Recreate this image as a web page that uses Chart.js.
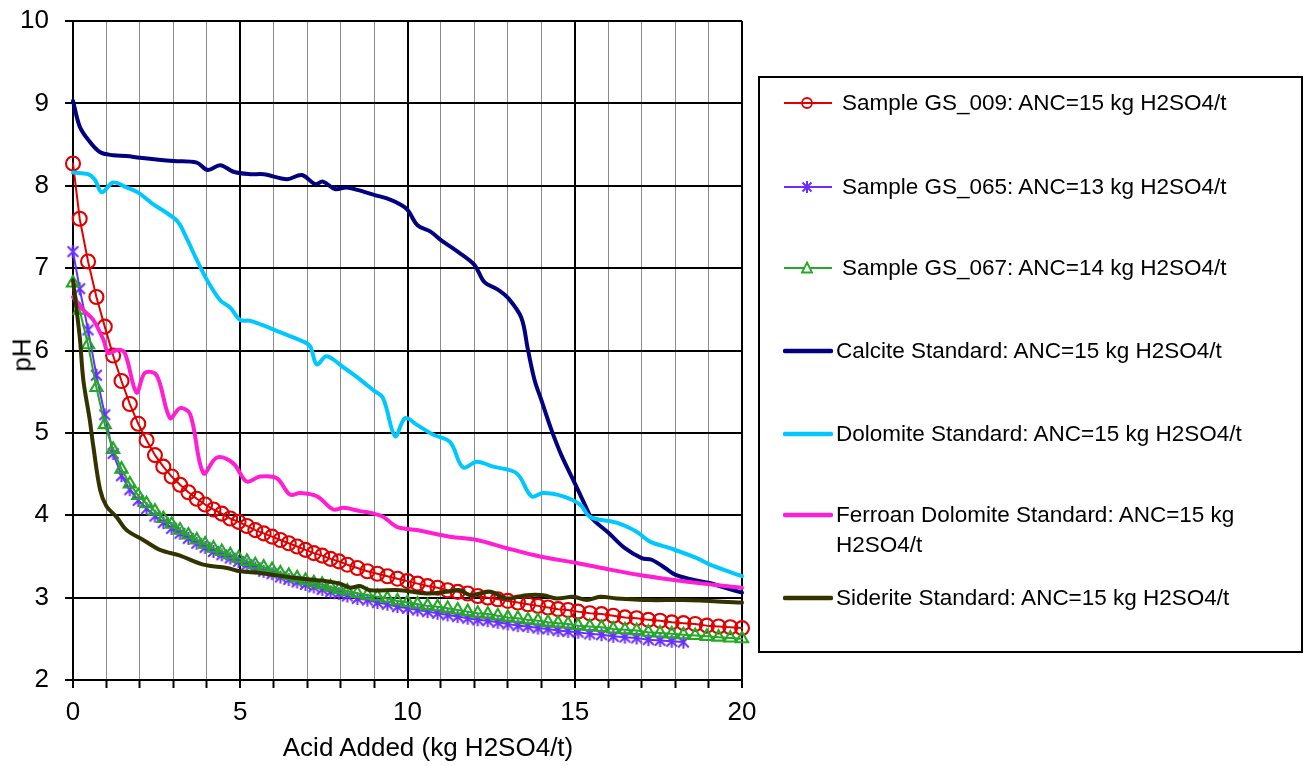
<!DOCTYPE html>
<html><head><meta charset="utf-8">
<script src="https://cdn.jsdelivr.net/npm/chart.js@4.4.1/dist/chart.umd.min.js"></script>
<style>
html,body{margin:0;padding:0;background:#fff;}
#wrap{position:relative;width:1311px;height:766px;overflow:hidden;font-family:"Liberation Sans",Arial,sans-serif;}
#c{position:absolute;left:0;top:0;}
#legend{position:absolute;left:758px;top:76px;width:541px;height:573px;border:2px solid #000;font-size:22.5px;color:#000;}
.txt{position:absolute;white-space:nowrap;line-height:30px;}
.ico{position:absolute;left:23px;}
#xtitle{position:absolute;left:428px;top:747px;transform:translate(-50%,-50%);font-size:26px;white-space:nowrap;color:#000;}
#ytitle{position:absolute;left:22px;top:355px;transform:translate(-50%,-50%) rotate(-90deg);font-size:26px;white-space:nowrap;color:#000;}
</style>
</head><body>
<div id="wrap">
<canvas id="c" width="1311" height="766"></canvas>
<div id="xtitle">Acid Added (kg H2SO4/t)</div>
<div id="ytitle">pH</div>
<div id="legend"></div>
</div>
<script>
// ---- data ----
const seriesNames = [
  "Sample GS_009: ANC=15 kg H2SO4/t",
  "Sample GS_065: ANC=13 kg H2SO4/t",
  "Sample GS_067: ANC=14 kg H2SO4/t",
  "Calcite Standard: ANC=15 kg H2SO4/t",
  "Dolomite Standard: ANC=15 kg H2SO4/t",
  "Ferroan Dolomite Standard: ANC=15 kg H2SO4/t",
  "Siderite Standard: ANC=15 kg H2SO4/t"
];
const xTickLabels = [0, 5, 10, 15, 20];
const yTickLabels = [2, 3, 4, 5, 6, 7, 8, 9, 10];

// acid added at each titration step of the samples
const sampleAcid = [0,0.2,0.45,0.7,0.95,1.2,1.45,1.7,1.95,2.2,2.45,2.7,2.95,3.2,3.45,3.7,3.95,4.2,4.45,4.7,4.95,5.2,5.45,5.7,5.95,6.2,6.45,6.7,6.95,7.2,7.45,7.7,7.95,8.2,8.5,8.8,9.1,9.4,9.7,10.0,10.3,10.6,10.9,11.2,11.5,11.8,12.1,12.4,12.7,13.0,13.3,13.6,13.9,14.2,14.5,14.8,15.1,15.45,15.8,16.15,16.5,16.85,17.2,17.55,17.9,18.25,18.6,18.95,19.3,19.65,20.0];

const gs009pH = [8.27,7.60,7.08,6.65,6.29,5.94,5.63,5.35,5.11,4.91,4.73,4.59,4.47,4.37,4.28,4.20,4.13,4.07,4.02,3.96,3.92,3.87,3.82,3.78,3.74,3.70,3.66,3.62,3.58,3.54,3.51,3.47,3.44,3.40,3.36,3.32,3.29,3.26,3.23,3.20,3.17,3.14,3.12,3.09,3.07,3.05,3.02,3.00,2.98,2.96,2.94,2.92,2.90,2.88,2.86,2.85,2.83,2.81,2.80,2.78,2.76,2.75,2.73,2.72,2.70,2.69,2.68,2.66,2.65,2.64,2.63];

const gs065pH = [7.20,6.75,6.25,5.70,5.22,4.75,4.48,4.31,4.18,4.08,3.99,3.91,3.84,3.78,3.72,3.66,3.61,3.56,3.52,3.48,3.44,3.40,3.36,3.32,3.29,3.25,3.22,3.19,3.16,3.13,3.10,3.07,3.05,3.02,2.99,2.97,2.94,2.92,2.89,2.87,2.85,2.83,2.81,2.79,2.77,2.75,2.73,2.72,2.70,2.68,2.66,2.65,2.63,2.62,2.60,2.59,2.58,2.56,2.55,2.53,2.52,2.51,2.49,2.48,2.47,2.46];

const gs067pH = [6.82,6.49,6.07,5.55,5.10,4.80,4.56,4.38,4.24,4.14,4.05,3.96,3.89,3.82,3.76,3.70,3.65,3.60,3.56,3.52,3.48,3.44,3.40,3.37,3.34,3.30,3.27,3.24,3.21,3.18,3.16,3.13,3.10,3.08,3.05,3.03,3.01,2.99,2.96,2.94,2.92,2.90,2.89,2.87,2.85,2.83,2.81,2.80,2.78,2.76,2.75,2.73,2.72,2.70,2.69,2.68,2.66,2.65,2.64,2.62,2.61,2.60,2.58,2.57,2.56,2.55,2.54,2.53,2.52,2.51,2.50];

const calciteAcid = [0,0.2,0.45,0.8,1.2,1.6,2.0,3.0,3.7,4.03,4.4,4.8,5.3,5.7,6.4,6.84,7.24,7.47,7.83,8.18,8.5,9.0,9.5,9.8,10.0,10.3,10.7,11.0,11.5,12.0,12.3,12.7,13.0,13.4,13.6,13.8,14.0,14.3,14.6,15.0,15.3,15.5,16.0,16.5,17.0,17.3,17.7,18.0,18.5,19.0,19.5,20.0];
const calcitePH = [9.03,8.72,8.56,8.41,8.37,8.36,8.34,8.30,8.28,8.19,8.25,8.17,8.14,8.14,8.08,8.13,8.02,8.05,7.96,7.98,7.95,7.89,7.83,7.77,7.71,7.52,7.44,7.34,7.20,7.04,6.83,6.74,6.64,6.40,6.01,5.64,5.40,5.04,4.73,4.39,4.13,3.97,3.79,3.60,3.48,3.46,3.36,3.28,3.22,3.18,3.12,3.06];

const dolomiteAcid = [0,0.45,0.66,0.86,1.2,1.6,1.94,2.35,2.8,3.14,3.4,3.7,4.0,4.4,4.7,5.0,5.3,5.9,6.39,6.88,7.09,7.29,7.58,8.07,8.48,8.97,9.27,9.63,9.93,10.27,10.76,11.27,11.66,12.07,12.56,13.26,13.71,14.05,14.65,15.16,15.46,16.25,16.85,17.25,17.85,18.65,19.04,20];
const dolomitePH = [8.16,8.14,8.07,7.92,8.04,7.98,7.92,7.79,7.67,7.56,7.36,7.10,6.86,6.61,6.52,6.37,6.36,6.27,6.19,6.11,6.05,5.83,5.93,5.80,5.68,5.52,5.42,4.96,5.18,5.10,4.98,4.89,4.58,4.65,4.59,4.51,4.23,4.27,4.23,4.13,3.98,3.91,3.80,3.68,3.60,3.48,3.40,3.26];

const ferroanAcid = [0,0.31,0.61,0.91,1.06,1.35,1.55,1.9,2.15,2.5,2.9,3.2,3.5,3.9,4.3,4.79,5.19,5.59,6.09,6.49,6.79,7.29,7.78,8.08,8.58,8.88,9.28,9.68,10.28,11.27,12.07,12.97,13.96,15.06,16.05,16.85,17.85,18.84,20];
const ferroanPH = [6.65,6.49,6.37,6.13,5.97,6.01,5.97,5.49,5.73,5.70,5.18,5.30,5.23,4.51,4.70,4.63,4.41,4.47,4.45,4.25,4.27,4.23,4.07,4.09,4.05,4.03,3.98,3.86,3.82,3.74,3.70,3.60,3.50,3.42,3.34,3.28,3.22,3.17,3.12];

const sideriteAcid = [0,0.2,0.31,0.5,0.61,0.81,1.0,1.3,1.6,2.1,2.6,3.2,3.9,4.6,5.0,5.6,6.6,7.58,7.98,8.28,8.58,8.88,9.78,10.57,11.17,11.57,11.87,12.47,12.97,13.56,14.06,14.46,14.96,15.36,15.76,16.25,17.25,18.24,20];
const sideritePH = [6.85,6.17,5.64,5.16,4.83,4.31,4.11,3.98,3.82,3.70,3.58,3.51,3.40,3.36,3.32,3.30,3.24,3.20,3.17,3.12,3.14,3.09,3.09,3.05,3.07,3.09,3.03,3.07,2.99,3.03,3.03,2.99,3.01,2.97,3.01,2.99,2.97,2.97,2.94];

// ---- styles ----
const colors = ['#E00000','#6A2EFF','#22AA22','#000080','#00C8FF','#FF1ED2','#333300'];
const FONT = '"Liberation Sans", Arial, sans-serif';

function pts(xs, ys){ return ys.map((y,i)=>({x:xs[i], y:y})); }

function asterisk(color, r){
  const s = Math.ceil(2*r+4);
  const c = document.createElement('canvas'); c.width = s; c.height = s;
  const g = c.getContext('2d'); g.strokeStyle = color; g.lineWidth = 2;
  const m = s/2, d = r*0.82;
  g.beginPath();
  g.moveTo(m, m-r); g.lineTo(m, m+r);
  g.moveTo(m-d, m-d); g.lineTo(m+d, m+d);
  g.moveTo(m+d, m-d); g.lineTo(m-d, m+d);
  g.stroke();
  return c;
}

const datasets = [
  {label:seriesNames[0], data:pts(sampleAcid, gs009pH), borderColor:colors[0], borderWidth:2, pointStyle:'circle', pointRadius:7, pointBorderWidth:2.1, pointBorderColor:colors[0], pointBackgroundColor:'rgba(0,0,0,0)', tension:0, order:7},
  {label:seriesNames[1], data:pts(sampleAcid, gs065pH), borderColor:colors[1], borderWidth:2, pointStyle:asterisk(colors[1],6.5), pointRadius:6.5, tension:0, order:6},
  {label:seriesNames[2], data:pts(sampleAcid, gs067pH), borderColor:colors[2], borderWidth:2, pointStyle:'triangle', pointRadius:7, pointBorderWidth:2.1, pointBorderColor:colors[2], pointBackgroundColor:'rgba(0,0,0,0)', tension:0, order:5},
  {label:seriesNames[3], data:pts(calciteAcid, calcitePH), borderColor:colors[3], borderWidth:4, pointRadius:0, tension:0.35, order:4},
  {label:seriesNames[4], data:pts(dolomiteAcid, dolomitePH), borderColor:colors[4], borderWidth:4, pointRadius:0, tension:0.35, order:3},
  {label:seriesNames[5], data:pts(ferroanAcid, ferroanPH), borderColor:colors[5], borderWidth:4, pointRadius:0, tension:0.35, order:2},
  {label:seriesNames[6], data:pts(sideriteAcid, sideritePH), borderColor:colors[6], borderWidth:4, pointRadius:0, tension:0.35, order:1}
];
datasets.forEach(d=>{ d.clip = false; d.fill = false; d.borderCapStyle='round'; d.borderJoinStyle='round'; });

new Chart(document.getElementById('c'), {
  type: 'line',
  data: { datasets },
  options: {
    responsive:false, animation:false, devicePixelRatio:1,
    layout:{ padding:{ left:0, right:569, top:21, bottom:0 } },
    plugins:{ legend:{display:false}, tooltip:{enabled:false} },
    elements:{ point:{ hitRadius:0 } },
    scales:{
      x:{
        type:'linear', min:0, max:20,
        afterFit(s){ s.height = 86; s.paddingLeft = 0; s.paddingRight = 0; },
        ticks:{ stepSize:1, autoSkip:false, maxRotation:0, color:'#000', padding:9,
          font:{family:FONT, size:26},
          callback:(v)=> xTickLabels.includes(v) ? String(v) : '' },
        grid:{ color:(ctx)=> (ctx.tick && xTickLabels.includes(ctx.tick.value)) ? '#000' : '#8a8a8a',
               lineWidth:(ctx)=> (ctx.tick && xTickLabels.includes(ctx.tick.value)) ? 2 : 1,
               tickColor:'#000', tickLength:8, tickWidth:2 },
        border:{ color:'#000', width:2 },
        title:{ display:false }
      },
      y:{
        min:2, max:10,
        afterFit(s){ s.width = 73; s.paddingTop = 0; s.paddingBottom = 0; },
        ticks:{ stepSize:1, color:'#000', padding:16, font:{family:FONT, size:26},
          callback:(v)=> yTickLabels.includes(v) ? String(v) : '' },
        grid:{ color:'#000', lineWidth:2, tickColor:'#000', tickLength:8, tickWidth:2 },
        border:{ color:'#000', width:2 },
        title:{ display:false }
      }
    }
  }
});

// ---- HTML legend ----
const legendRows = [
  {c:25, tx:82, lines:[seriesNames[0]]},
  {c:109, tx:82, lines:[seriesNames[1]]},
  {c:190, tx:82, lines:[seriesNames[2]]},
  {c:273, tx:76, lines:[seriesNames[3]]},
  {c:356, tx:76, lines:[seriesNames[4]]},
  {c:437, tx:76, lines:["Ferroan Dolomite Standard: ANC=15 kg","H2SO4/t"]},
  {c:520, tx:76, lines:[seriesNames[6]]}
];
const lg = document.getElementById('legend');
legendRows.forEach((r,i)=>{
  const col = colors[i];
  let marker = '';
  if (i===0) marker = `<circle cx="24" cy="10" r="5" fill="none" stroke="${col}" stroke-width="1.8"/>`;
  if (i===1) marker = `<path d="M24 4V16M19.5 5.5L28.5 14.5M28.5 5.5L19.5 14.5" stroke="${col}" stroke-width="2" fill="none"/>`;
  if (i===2) marker = `<path d="M24 4.5L29 14.5H19Z" fill="#fff" stroke="${col}" stroke-width="1.8"/>`;
  const sw = i<3 ? 2 : 4.5;
  const svg = `<svg class="ico" width="50" height="20" style="top:${r.c-10}px" viewBox="0 0 50 20"><line x1="${i<3?1:2}" y1="10" x2="${i<3?49:48}" y2="10" stroke="${col}" stroke-width="${sw}" stroke-linecap="${i<3?'butt':'round'}"/>${marker}</svg>`;
  lg.insertAdjacentHTML('beforeend', svg);
  const d = document.createElement('div');
  d.className = 'txt';
  d.style.left = r.tx + 'px';
  d.style.top = (r.c - 15) + 'px';
  d.innerHTML = r.lines.join('<br>');
  lg.appendChild(d);
});
</script>
</body></html>
